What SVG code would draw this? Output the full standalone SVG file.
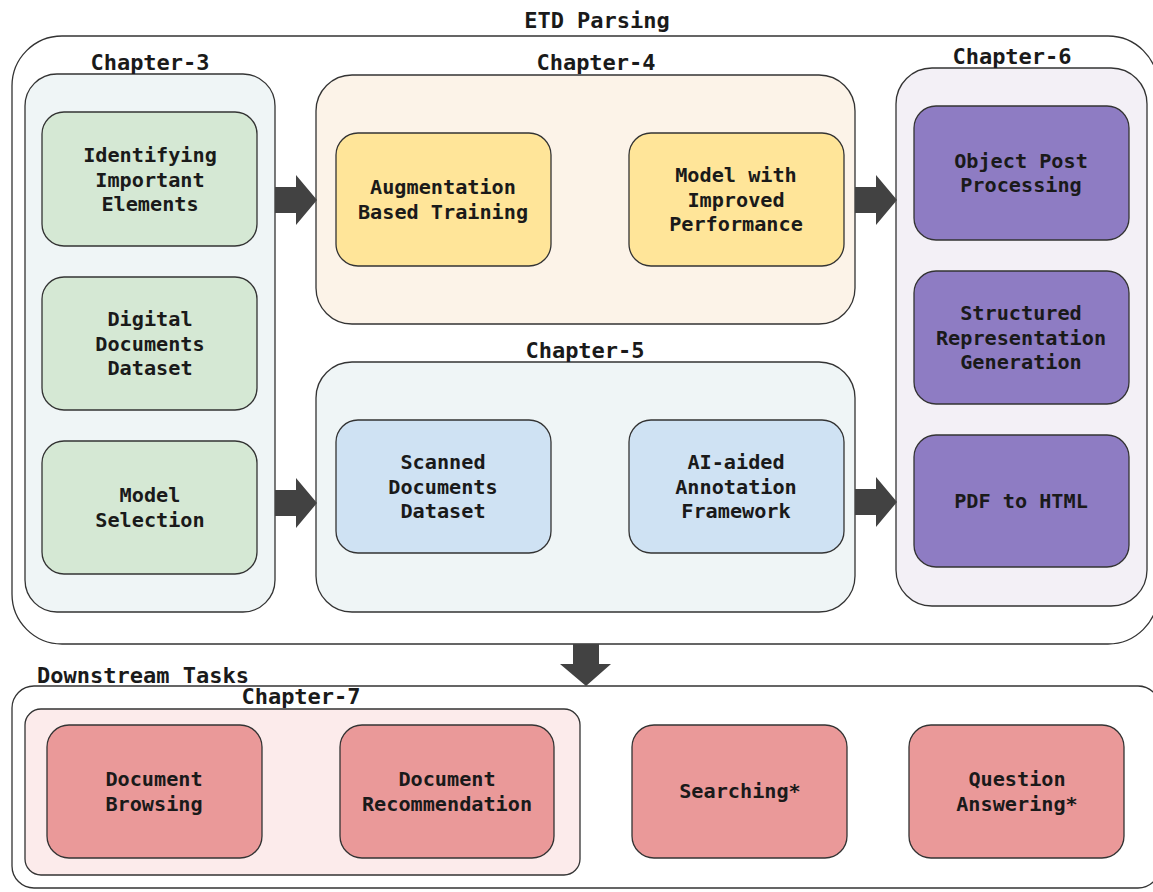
<svg xmlns="http://www.w3.org/2000/svg" width="1153" height="892" viewBox="0 0 1153 892">
<style>
text{font-family:"DejaVu Sans Mono","Liberation Mono",monospace;font-weight:bold;fill:#1a1a1a;text-anchor:middle}
.t{font-size:20.2px}
.h{font-size:22px}
.panel{stroke:#333;stroke-width:1.3}
.node{stroke:#333;stroke-width:1.3}
.g{fill:#d5e8d4}.y{fill:#ffe599}.b{fill:#cfe2f3}.p{fill:#8e7cc3}.r{fill:#ea9999}
.arrow{fill:#424242}
</style>
<rect width="1153" height="892" fill="#fff"/>
<g id="etd-parsing">
<rect class="panel" x="12" y="36" width="1146" height="608" rx="50" fill="#fff"/>
<text class="h" x="597" y="28">ETD Parsing</text>
</g>
<g id="chapter-3">
<rect class="panel" x="25" y="74" width="250" height="538" rx="32" fill="#eff5f6"/>
<text class="h" x="150" y="70">Chapter-3</text>
</g>
<g id="chapter-4">
<rect class="panel" x="316" y="75" width="539" height="249" rx="36" fill="#fcf3e8"/>
<text class="h" x="596" y="70">Chapter-4</text>
</g>
<g id="chapter-5">
<rect class="panel" x="316" y="362" width="539" height="250" rx="36" fill="#eff5f6"/>
<text class="h" x="585" y="358">Chapter-5</text>
</g>
<g id="chapter-6">
<rect class="panel" x="896" y="68" width="251" height="538" rx="36" fill="#f3f0f6"/>
<text class="h" x="1012" y="64">Chapter-6</text>
</g>
<g id="n-identifying">
<rect class="node g" x="42" y="112" width="215" height="134" rx="22"/>
<text class="t" x="150" y="162">Identifying</text>
<text class="t" x="150" y="186.5">Important</text>
<text class="t" x="150" y="211">Elements</text>
</g>
<g id="n-digital">
<rect class="node g" x="42" y="277" width="215" height="133" rx="22"/>
<text class="t" x="150" y="326">Digital</text>
<text class="t" x="150" y="350.5">Documents</text>
<text class="t" x="150" y="375">Dataset</text>
</g>
<g id="n-model-selection">
<rect class="node g" x="42" y="441" width="215" height="133" rx="22"/>
<text class="t" x="150" y="502">Model</text>
<text class="t" x="150" y="527">Selection</text>
</g>
<g id="n-augmentation">
<rect class="node y" x="336" y="133" width="215" height="133" rx="22"/>
<text class="t" x="443" y="194">Augmentation</text>
<text class="t" x="443" y="219">Based Training</text>
</g>
<g id="n-improved">
<rect class="node y" x="629" y="133" width="215" height="133" rx="22"/>
<text class="t" x="736" y="182">Model with</text>
<text class="t" x="736" y="206.5">Improved</text>
<text class="t" x="736" y="231">Performance</text>
</g>
<g id="n-scanned">
<rect class="node b" x="336" y="420" width="215" height="133" rx="22"/>
<text class="t" x="443" y="469">Scanned</text>
<text class="t" x="443" y="493.5">Documents</text>
<text class="t" x="443" y="518">Dataset</text>
</g>
<g id="n-annotation">
<rect class="node b" x="629" y="420" width="215" height="133" rx="22"/>
<text class="t" x="736" y="469">AI-aided</text>
<text class="t" x="736" y="493.5">Annotation</text>
<text class="t" x="736" y="518">Framework</text>
</g>
<g id="n-object-post">
<rect class="node p" x="914" y="106" width="215" height="134" rx="22"/>
<text class="t" x="1021" y="168">Object Post</text>
<text class="t" x="1021" y="192">Processing</text>
</g>
<g id="n-structured">
<rect class="node p" x="914" y="271" width="215" height="133" rx="22"/>
<text class="t" x="1021" y="320">Structured</text>
<text class="t" x="1021" y="344.5">Representation</text>
<text class="t" x="1021" y="369">Generation</text>
</g>
<g id="n-pdf-html">
<rect class="node p" x="914" y="435" width="215" height="132" rx="22"/>
<text class="t" x="1021" y="508">PDF to HTML</text>
</g>
<g id="downstream">
<rect class="panel" x="12" y="686" width="1148" height="202" rx="22" fill="#fff"/>
<text class="h" x="37" y="683" style="text-anchor:start">Downstream Tasks</text>
</g>
<g id="chapter-7">
<rect class="panel" x="25" y="709" width="555" height="166" rx="16" fill="#fcebeb"/>
<text class="h" x="301" y="704">Chapter-7</text>
</g>
<g id="n-browsing">
<rect class="node r" x="47" y="725" width="215" height="133" rx="22"/>
<text class="t" x="154" y="786">Document</text>
<text class="t" x="154" y="811">Browsing</text>
</g>
<g id="n-recommendation">
<rect class="node r" x="340" y="725" width="214" height="133" rx="22"/>
<text class="t" x="447" y="786">Document</text>
<text class="t" x="447" y="811">Recommendation</text>
</g>
<g id="n-searching">
<rect class="node r" x="632" y="725" width="215" height="133" rx="22"/>
<text class="t" x="740" y="798">Searching*</text>
</g>
<g id="n-qa">
<rect class="node r" x="909" y="725" width="215" height="133" rx="22"/>
<text class="t" x="1017" y="786">Question</text>
<text class="t" x="1017" y="811">Answering*</text>
</g>
<g id="connectors">
<polygon class="arrow" points="275,187 296,187 296,175 317,200 296,225 296,213 275,213"/>
<polygon class="arrow" points="275,490 296,490 296,478 317,503 296,528 296,516 275,516"/>
<polygon class="arrow" points="855,187 876,187 876,175 897,200 876,225 876,213 855,213"/>
<polygon class="arrow" points="855,489 876,489 876,477 897,502 876,527 876,515 855,515"/>
<polygon class="arrow" points="573,644 599,644 599,664 611,664 586,686 560,664 573,664"/>
</g>
</svg>
